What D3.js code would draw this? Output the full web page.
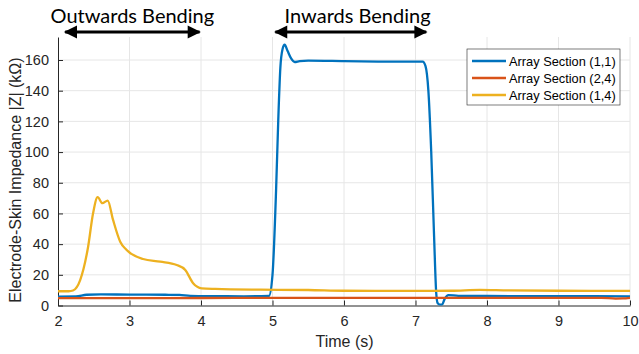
<!DOCTYPE html>
<html>
<head>
<meta charset="utf-8">
<script src="https://cdn.jsdelivr.net/npm/d3@7"></script>
<style>
  body { margin: 0; background: #fff; }
  svg { display: block; }
</style>
</head>
<body>
<div id="chart"></div>
<script>
// Time values (s) and impedance values (kOhm) for each section
const tBlue = [2.0, 2.25, 2.4, 2.6, 3.0, 3.5, 3.7, 3.85, 4.2, 4.6, 4.95, 5.0, 5.05, 5.08, 5.11, 5.14, 5.17, 5.21, 5.26, 5.31, 5.38, 5.5, 6.0, 6.5, 7.0, 7.1, 7.14, 7.18, 7.22, 7.26, 7.29, 7.31, 7.34, 7.37, 7.41, 7.46, 7.6, 8.0, 9.0, 10.0];
const zBlue = [5.8, 5.9, 7.0, 7.2, 7.1, 7.0, 6.9, 6.3, 6.1, 6.0, 6.2, 20, 75, 120, 155, 167, 170, 166, 161, 158.7, 159.3, 159.6, 159.3, 159.0, 158.9, 158.9, 156, 140, 100, 45, 8, 1.5, 0.5, 0.5, 4.5, 6.8, 6.3, 6.2, 6.1, 6.0];

const tOrange = [2.0, 3.0, 4.0, 5.0, 6.0, 7.0, 8.0, 9.0, 9.6, 9.8, 9.9, 10.0];
const zOrange = [4.8, 4.8, 4.9, 5.0, 5.0, 5.0, 5.0, 5.0, 5.0, 4.5, 4.6, 5.0];

const tYellow = [2.0, 2.15, 2.21, 2.31, 2.42, 2.49, 2.555, 2.62, 2.695, 2.77, 2.87, 2.96, 3.19, 3.43, 3.66, 3.78, 3.89, 4.01, 4.2, 4.83, 5.5, 6.0, 7.0, 7.5, 7.9, 8.3, 9.0, 10.0];
const zYellow = [9.3, 9.3, 9.8, 16.6, 38, 60, 70.6, 66.7, 68.4, 55.8, 41.6, 36.2, 30.3, 28.6, 26.4, 23.2, 14.5, 11.2, 10.8, 10.3, 10.1, 9.6, 9.5, 9.6, 10.2, 9.8, 9.6, 9.5];

const seriesNames = ["Array Section (1,1)", "Array Section (2,4)", "Array Section (1,4)"];
const xTicks = [2, 3, 4, 5, 6, 7, 8, 9, 10];
const yTicks = [0, 20, 40, 60, 80, 100, 120, 140, 160];
const annotations = [
  { label: "Outwards Bending", from: 2.1, to: 3.98, labelAt: 3.04 },
  { label: "Inwards Bending", from: 5.04, to: 7.15, labelAt: 6.19 }
];

const colors = ["#0072BD", "#D95319", "#EDB120"];
const series = [
  { name: seriesNames[0], t: tBlue, z: zBlue, color: colors[0] },
  { name: seriesNames[1], t: tOrange, z: zOrange, color: colors[1] },
  { name: seriesNames[2], t: tYellow, z: zYellow, color: colors[2] }
];

const W = 639, H = 354;
const margin = { top: 37, right: 9, bottom: 48.5, left: 58 };
const width = W - margin.left - margin.right;
const height = H - margin.top - margin.bottom;

const svg = d3.select("#chart").append("svg")
  .attr("width", W)
  .attr("height", H);

const g = svg.append("g")
  .attr("transform", `translate(${margin.left},${margin.top})`);

const x = d3.scaleLinear().domain([2, 10]).range([0, width]);
const y = d3.scaleLinear().domain([0, 175]).range([height, 0]);

// grid
g.append("g").selectAll("line").data(xTicks.slice(1)).join("line")
  .attr("x1", d => x(d)).attr("x2", d => x(d))
  .attr("y1", 0).attr("y2", height)
  .attr("stroke", "#e6e6e6");
g.append("g").selectAll("line").data(yTicks.slice(1)).join("line")
  .attr("x1", 0).attr("x2", width)
  .attr("y1", d => y(d)).attr("y2", d => y(d))
  .attr("stroke", "#e6e6e6");

// axes
const fontAxis = "'Liberation Sans', Arial, sans-serif";
const xAxis = g.append("g")
  .attr("transform", `translate(0,${height})`)
  .call(d3.axisBottom(x).tickValues(xTicks).tickSizeInner(-5).tickSizeOuter(0).tickPadding(10));
const yAxis = g.append("g")
  .call(d3.axisLeft(y).tickValues(yTicks).tickSizeInner(-5).tickSizeOuter(0).tickPadding(9));
[xAxis, yAxis].forEach(a => {
  a.selectAll("path").attr("stroke", "#262626");
  a.selectAll("line").attr("stroke", "#262626");
  a.selectAll("text").attr("fill", "#262626")
    .style("font-family", fontAxis).style("font-size", "14.5px");
});

// lines
const clipId = "plot-clip";
svg.append("defs").append("clipPath").attr("id", clipId)
  .append("rect").attr("x", 0).attr("y", 0).attr("width", width).attr("height", height);

const line = d3.line()
  .x(d => x(d[0]))
  .y(d => y(d[1]))
  .curve(d3.curveMonotoneX);

g.append("g").attr("clip-path", `url(#${clipId})`)
  .selectAll("path").data([series[0], series[2], series[1]]).join("path")
  .attr("d", s => line(s.t.map((t, i) => [t, s.z[i]])))
  .attr("fill", "none")
  .attr("stroke", s => s.color)
  .attr("stroke-width", 2.3)
  .attr("stroke-linejoin", "round");

// axis labels
svg.append("text")
  .attr("x", margin.left + width / 2 + 0.5)
  .attr("y", 347)
  .attr("text-anchor", "middle")
  .attr("fill", "#262626")
  .style("font-family", fontAxis).style("font-size", "16px")
  .text("Time (s)");

svg.append("text")
  .attr("transform", `translate(21,180) rotate(-90)`)
  .attr("text-anchor", "middle")
  .attr("fill", "#262626")
  .style("font-family", fontAxis).style("font-size", "16px")
  .text("Electrode-Skin Impedance |Z| (kΩ)");

// legend
const lg = svg.append("g").attr("transform", "translate(467,49)");
lg.append("rect")
  .attr("width", 153).attr("height", 56)
  .attr("fill", "#fff").attr("stroke", "#262626").attr("stroke-width", 0.6);
series.forEach((s, i) => {
  const yy = 12 + i * 17;
  lg.append("line")
    .attr("x1", 5).attr("x2", 39).attr("y1", yy).attr("y2", yy)
    .attr("stroke", s.color).attr("stroke-width", 2.3);
  lg.append("text")
    .attr("x", 42).attr("y", yy + 4.5)
    .attr("fill", "#000")
    .style("font-family", fontAxis).style("font-size", "12.8px")
    .text(s.name);
});

// annotations with double-headed arrows
const defs = svg.select("defs");
defs.append("marker")
  .attr("id", "arrow")
  .attr("viewBox", "0 0 10 10")
  .attr("refX", 9).attr("refY", 5)
  .attr("markerWidth", 4.8).attr("markerHeight", 4.4)
  .attr("markerUnits", "strokeWidth")
  .attr("orient", "auto-start-reverse")
  .append("path").attr("d", "M0,0 L10,5 L0,10 Z").attr("fill", "#000");

annotations.forEach(a => {
  const x1 = margin.left + x(a.from), x2 = margin.left + x(a.to);
  svg.append("line")
    .attr("x1", x1).attr("x2", x2).attr("y1", 32).attr("y2", 32)
    .attr("stroke", "#000").attr("stroke-width", 3)
    .attr("marker-start", "url(#arrow)")
    .attr("marker-end", "url(#arrow)");
  svg.append("text")
    .attr("x", margin.left + x(a.labelAt))
    .attr("y", 23)
    .attr("text-anchor", "middle")
    .attr("fill", "#000")
    .style("font-family", "Lato, 'Open Sans', sans-serif").style("font-size", "20px")
    .text(a.label);
});
</script>
</body>
</html>
